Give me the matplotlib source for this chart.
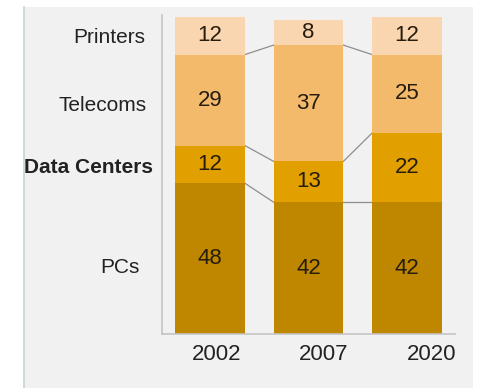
import matplotlib
matplotlib.use("Agg")
import matplotlib.pyplot as plt
import matplotlib.transforms as mtransforms
from matplotlib.patches import Rectangle
import numpy as np

years = ["2002", "2007", "2020"]
segments = ["PCs", "Data Centers", "Telecoms", "Printers"]
pcs = [48, 42, 42]
data_centers = [12, 13, 22]
telecoms = [29, 37, 25]
printers = [12, 8, 12]

series = [pcs, data_centers, telecoms, printers]
colors = ["#BF8600", "#E2A000", "#F3BA6C", "#F9D6B0"]

plt.rcParams['font.family'] = ['Liberation Sans', 'DejaVu Sans']

W, H = 478, 388
fig = plt.figure(figsize=(W / 100, H / 100), dpi=100)
fig.patch.set_facecolor("white")
# light grey panel
fig.patches.append(Rectangle((23 / W, 0), (473 - 23) / W, (H - 7) / H,
                             transform=fig.transFigure, facecolor="#F1F1F1",
                             edgecolor="none", zorder=-10))
fig.lines.append(plt.Line2D([23.5 / W, 23.5 / W], [0, (H - 7) / H],
                            transform=fig.transFigure, color="#C9D3D6", lw=1.2,
                            zorder=-9))

ax = fig.add_axes([162 / W, 54 / H, (455 - 162) / W, (373 - 54) / H])
ax.set_zorder(5)
ax.set_facecolor("none")

x = np.arange(len(years))
width = 0.71
bottoms = np.zeros(len(years))
tops_list = []
for vals, col in zip(series, colors):
    vals = np.array(vals, dtype=float)
    ax.bar(x, vals, width=width, bottom=bottoms, color=col, edgecolor="none", zorder=2)
    for xi, b, v in zip(x, bottoms, vals):
        ax.text(xi, b + v / 2, f"{int(v)}", ha="center", va="center",
                fontsize=16, color="#261D0E", zorder=3)
    bottoms = bottoms + vals
    tops_list.append(bottoms.copy())

# connector lines between internal boundaries
for tops in tops_list[:-1]:
    for i in range(len(years) - 1):
        ax.plot([x[i] + width / 2, x[i + 1] - width / 2], [tops[i], tops[i + 1]],
                color="#8E8E8E", lw=0.9, zorder=1)

ax.set_xlim(-0.487, 2.487)
ax.set_ylim(0, 101.6)

# x tick labels
label_shift = [0.07, 0.15, 0.25]
ax.set_xticks(x + np.array(label_shift))
ax.set_xticklabels(years, fontsize=16, color="#222222")
ax.tick_params(axis="x", length=0, pad=7)

# y labels at first bar segment centres
ax.set_yticks([])
first = np.array([s[0] for s in series], dtype=float)
centres = np.cumsum(first) - first / 2
down = [9, 3, 5, 2]
gap = [22, 9, 15, 17]
trans = mtransforms.blended_transform_factory(ax.transAxes, ax.transData)
for name, c, d, g in zip(segments, centres, down, gap):
    t = trans + mtransforms.ScaledTranslation(-g / 100, -d / 100, fig.dpi_scale_trans)
    ax.text(0, c, name, transform=t, ha="right", va="center", fontsize=15,
            color="#222222", fontweight="bold" if name == "Data Centers" else "normal",
            clip_on=False)

for s in ["top", "right"]:
    ax.spines[s].set_visible(False)
for s in ["left", "bottom"]:
    ax.spines[s].set_color("#C4C4C4")
    ax.spines[s].set_linewidth(1.2)

fig.savefig("out.png", dpi=100)
